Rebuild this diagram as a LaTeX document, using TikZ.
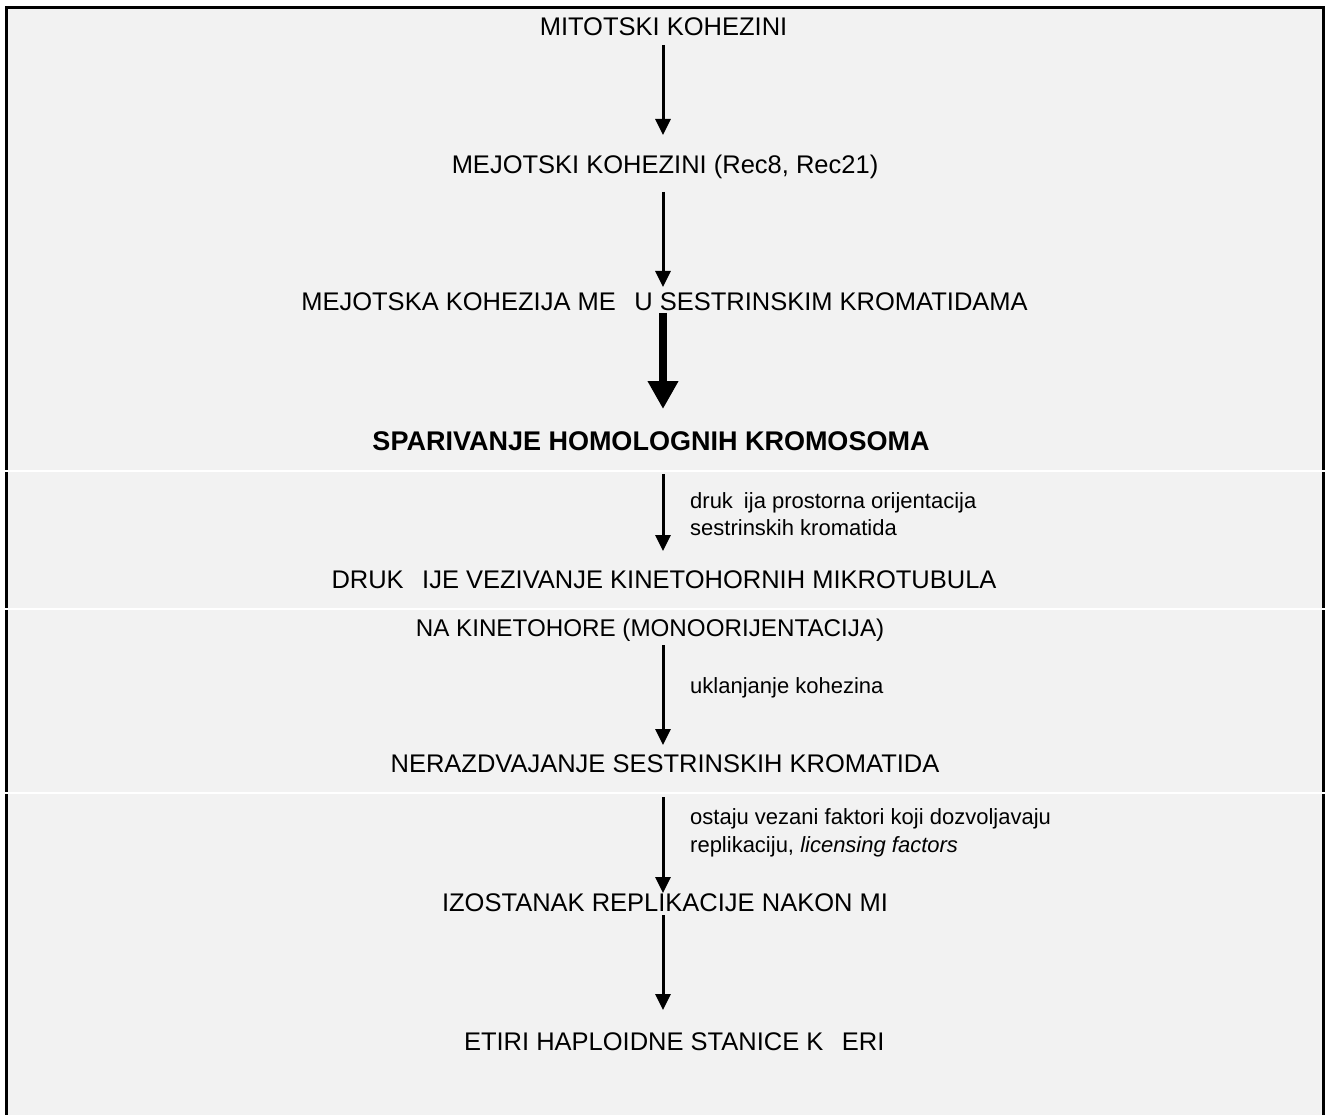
\documentclass[tikz,border=0pt]{standalone}
\usepackage{fontspec}
\setmainfont{Liberation Sans}
\usetikzlibrary{arrows.meta}
\definecolor{bg}{HTML}{F2F2F2}
\begin{document}
\begin{tikzpicture}[x=1pt,y=-1pt,
  main/.style={font=\fontsize{25.5}{30}\selectfont, inner sep=0pt, anchor=base},
  mainbold/.style={font=\fontsize{27}{32}\selectfont\bfseries, inner sep=0pt, anchor=base},
  lbl/.style={font=\fontsize{22}{27}\selectfont, inner sep=0pt, anchor=base west},
  thinarrow/.style={line width=3pt, -{Triangle[length=16pt,width=15pt]}},
  thickarrow/.style={line width=8pt, -{Triangle[length=28pt,width=29pt]}},
  sep/.style={white, line width=1.5pt}
]
\useasboundingbox (0,0) rectangle (1325,1115);
\fill[white] (0,0) rectangle (1325,1115);
\fill[bg] (6.5,7.5) rectangle (1323.5,1115);
\draw[line width=3pt] (6.5,1115) -- (6.5,7.5) -- (1323.5,7.5) -- (1323.5,1115);
\draw[sep] (4,471) -- (1325,471);
\draw[sep] (4,609) -- (1325,609);
\draw[sep] (4,793) -- (1325,793);

\node[main] (n1) at (663.5,36) {MITOTSKI KOHEZINI};
\node[main] (n2) at (665,174) {MEJOTSKI KOHEZINI (Rec8, Rec21)};
\node[main] (n3) at (664.5,311) {MEJOTSKA KOHEZIJA ME\phantom{Đ}U SESTRINSKIM KROMATIDAMA};
\node[mainbold] (n4) at (651,450) {SPARIVANJE HOMOLOGNIH KROMOSOMA};
\node[main] (n5a) at (664,588) {DRUK\phantom{Č}IJE VEZIVANJE KINETOHORNIH MIKROTUBULA};
\node[main, font=\fontsize{24.2}{30}\selectfont] (n5b) at (650,636) {NA KINETOHORE (MONOORIJENTACIJA)};
\node[main] (n6) at (665,772) {NERAZDVAJANJE SESTRINSKIH KROMATIDA};
\node[main] (n7) at (665,911) {IZOSTANAK REPLIKACIJE NAKON MI};
\node[main] (n8) at (665,1050) {\phantom{Č}ETIRI HAPLOIDNE STANICE K\phantom{Ć}ERI};

\node[lbl] (l4a) at (690,508) {druk\phantom{č}ija prostorna orijentacija};
\node[lbl] (l4b) at (690,535) {sestrinskih kromatida};
\node[lbl] (l5) at (690,693) {uklanjanje kohezina};
\node[lbl] (l6a) at (690,824) {ostaju vezani faktori koji dozvoljavaju};
\node[lbl] (l6b) at (690,852) {replikaciju, \textit{licensing factors}};

\coordinate (a1s) at (663,45);  \coordinate (a1e) at (663,135);
\coordinate (a2s) at (663,192); \coordinate (a2e) at (663,287);
\coordinate (a3s) at (663,313); \coordinate (a3e) at (663,409);
\coordinate (a4s) at (663,474); \coordinate (a4e) at (663,551);
\coordinate (a5s) at (663,645); \coordinate (a5e) at (663,745);
\coordinate (a6s) at (663,797); \coordinate (a6e) at (663,893);
\coordinate (a7s) at (663,915); \coordinate (a7e) at (663,1010);

\draw[thinarrow] (a1s) -- (a1e);
\draw[thinarrow] (a2s) -- (a2e);
\draw[thickarrow] (a3s) -- (a3e);
\draw[thinarrow] (a4s) -- (a4e);
\draw[thinarrow] (a5s) -- (a5e);
\draw[thinarrow] (a6s) -- (a6e);
\draw[thinarrow] (a7s) -- (a7e);
\end{tikzpicture}
\end{document}
